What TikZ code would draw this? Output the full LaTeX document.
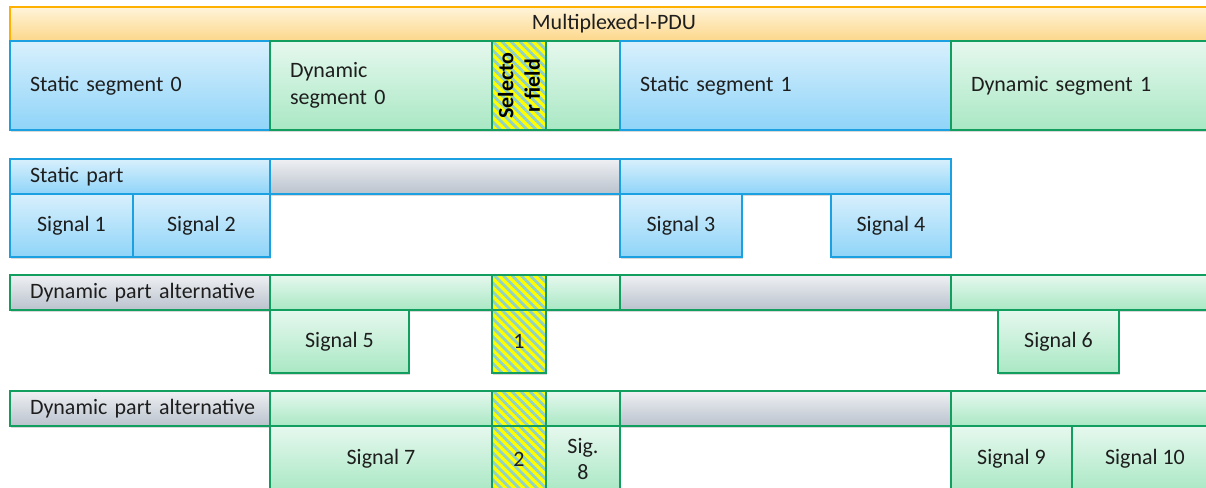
\documentclass[tikz,border=0pt]{standalone}
\usepackage{fontspec}
\setmainfont{Carlito}
\usepackage{tikz}
\usepackage{xcolor}
\usetikzlibrary{patterns.meta,shadows}

\definecolor{txt}{HTML}{1E1E1E}
\definecolor{bluetop}{HTML}{D8F0FD}
\definecolor{bluebot}{HTML}{8FD4F8}
\definecolor{blueline}{HTML}{1BA1E2}
\definecolor{greentop}{HTML}{E6F8EE}
\definecolor{greenbot}{HTML}{A9E8C4}
\definecolor{greenline}{HTML}{119E5E}
\definecolor{greytop}{HTML}{EEF0F3}
\definecolor{greybot}{HTML}{BAC2CD}
\definecolor{pdutop}{HTML}{FFF4DA}
\definecolor{pdubot}{HTML}{FCD78A}
\definecolor{pduline}{HTML}{FFB000}
\definecolor{selyellow}{HTML}{FFFF00}
\definecolor{stripe}{HTML}{90D2C8}

\tikzstyle{cell} = [draw, line width=1.1pt, anchor=north west, inner sep=0pt, outer sep=0pt,
  drop shadow={shadow xshift=0.6pt, shadow yshift=-1.3pt, opacity=0.25, fill=black!60}]
\tikzstyle{pdubox} = [cell, draw=pduline, top color=pdutop, bottom color=pdubot]
\tikzstyle{statbox} = [cell, draw=blueline, top color=bluetop, bottom color=bluebot]
\tikzstyle{dynbox} = [cell, draw=greenline, top color=greentop, bottom color=greenbot]
\tikzstyle{idlebox} = [cell, top color=greytop, bottom color=greybot]
\tikzstyle{selbox} = [cell, draw=greenline, preaction={fill=selyellow},
  pattern={Lines[angle=-45,distance=3.6pt,line width=1.6pt]}, pattern color=stripe]

\begin{document}
\begin{tikzpicture}
\tikzset{every node/.style={font=\fontsize{12.5}{15}\selectfont, text=txt},
  box/.style 2 args={minimum width=#1cm, minimum height=#2cm}}
\useasboundingbox (0,0) rectangle (24.12,-9.76);
\clip (0,0) rectangle (24.12,-9.76);

% frame of the multiplexed PDU
\node[pdubox, box={24.16}{0.68}] (pdu) at (0.2,-0.14) {Multiplexed-I-PDU};
\node[statbox, box={5.2}{1.78}, text width=4.4cm, align=left] (s0) at (0.2,-0.82) {Static segment 0};
\node[dynbox, box={4.44}{1.78}, text width=3.64cm, align=left] (d0) at (5.4,-0.82) {Dynamic\\segment 0};
\node[selbox, box={1.08}{1.78}] (sel) at (9.84,-0.82) {};
\node[rotate=90, align=center, font=\fontsize{12.5}{15}\selectfont\bfseries, text=black] (selt) at (sel.center) {Selecto\\r field};
\node[dynbox, box={1.48}{1.78}] (d0r) at (10.92,-0.82) {};
\node[statbox, box={6.62}{1.78}, text width=5.82cm, align=left] (s1) at (12.4,-0.82) {Static segment 1};
\node[dynbox, box={5.34}{1.78}, text width=4.54cm, align=left] (d1) at (19.02,-0.82) {Dynamic segment 1};

% static part
\node[statbox, box={5.2}{0.7}, text width=4.4cm, align=left] (sp) at (0.2,-3.18) {Static part};
\node[idlebox, draw=blueline, box={7}{0.7}] (spg) at (5.4,-3.18) {};
\node[statbox, box={6.62}{0.7}] (sp1) at (12.4,-3.18) {};
\foreach \n/\x/\w in {1/0.2/2.46, 2/2.66/2.74, 3/12.4/2.44, 4/16.62/2.4}
{
	\node[statbox, box={\w}{1.26}] (sig\n) at (\x,-3.88) {Signal \n};
}

% dynamic part alternatives
\foreach \r/\y in {a/-5.5, b/-7.82}
{
	\node[idlebox, draw=greenline, box={5.2}{0.7}, text width=4.4cm, align=left] (alt\r) at (0.2,\y) {\mbox{Dynamic part alternative}};
	\node[dynbox, box={4.44}{0.7}] (d0\r) at (5.4,\y) {};
	\node[selbox, box={1.08}{0.7}] (sel\r) at (9.84,\y) {};
	\node[dynbox, box={1.48}{0.7}] (d0r\r) at (10.92,\y) {};
	\node[idlebox, draw=greenline, box={6.62}{0.7}] (s1\r) at (12.4,\y) {};
	\node[dynbox, box={5.34}{0.7}] (d1\r) at (19.02,\y) {};
}

\node[dynbox, box={2.78}{1.26}] (sig5) at (5.4,-6.2) {Signal 5};
\node[selbox, box={1.08}{1.26}] (selv1) at (9.84,-6.2) {1};
\node[dynbox, box={2.42}{1.26}] (sig6) at (19.96,-6.2) {Signal 6};

\node[dynbox, box={4.44}{1.32}] (sig7) at (5.4,-8.52) {Signal 7};
\node[selbox, box={1.08}{1.32}] (selv2) at (9.84,-8.52) {2};
\node[dynbox, box={1.48}{1.32}, align=center] (sig8) at (10.92,-8.52) {Sig.\\8};
\node[dynbox, box={2.42}{1.32}] (sig9) at (19.02,-8.52) {Signal 9};
\node[dynbox, box={2.92}{1.32}] (sig10) at (21.44,-8.52) {Signal 10};

\end{tikzpicture}
\end{document}
